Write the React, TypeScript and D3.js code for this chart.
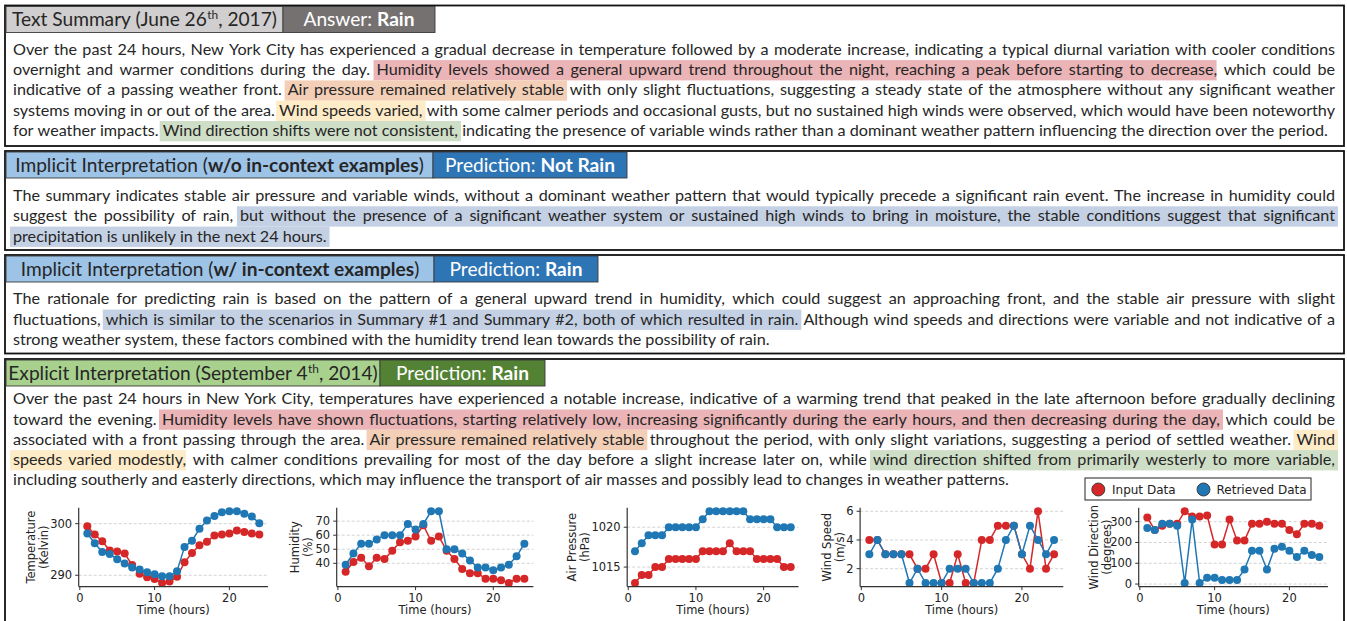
import * as d3 from 'd3';
import React from 'react';

// ---- chart data (hour of day, input vs retrieved series) ----
const hours = [1, 2, 3, 4, 5, 6, 7, 8, 9, 10, 11, 12, 13, 14, 15, 16, 17, 18, 19, 20, 21, 22, 23, 24];

const temperatureInput = [299.5, 297.9, 296.6, 294.8, 294.6, 294.2, 292.0, 290.3, 289.6, 289.3, 288.5, 288.8, 289.7, 292.5, 294.3, 295.8, 296.5, 297.7, 297.9, 298.1, 298.7, 298.4, 298.1, 297.9];
const temperatureRetrieved = [298.1, 296.2, 294.5, 294.1, 293.1, 292.3, 291.5, 291.1, 290.6, 290.2, 289.8, 289.8, 290.8, 295.5, 296.7, 299.0, 300.6, 301.5, 302.2, 302.4, 302.4, 301.9, 301.4, 300.1];
const humidityInput = [34, 41, 44, 38, 44, 43, 49, 55, 56, 59, 67, 56, 59, 49, 43, 36, 33, 33, 29, 29, 28, 26, 29, 29];
const humidityRetrieved = [39, 47, 54, 54, 57, 60, 60, 60, 68, 64, 68, 77, 77, 50, 50, 47, 42, 37, 37, 35, 37, 39, 45, 54];
const pressureInput = [1013, 1014, 1014, 1015, 1015, 1016, 1016, 1016, 1016, 1016, 1017, 1017, 1017, 1017, 1018, 1017, 1017, 1017, 1016, 1016, 1016, 1016, 1015, 1015];
const pressureRetrieved = [1017, 1018, 1019, 1019, 1019, 1020, 1020, 1020, 1020, 1020, 1021, 1022, 1022, 1022, 1022, 1022, 1022, 1021, 1021, 1021, 1021, 1020, 1020, 1020];
const windSpeedInput = [4, 4, 3, 3, 3, 3, 2, 2, 3, 1, 1, 3, 1, 1, 4, 4, 5, 5, 5, 3, 2, 6, 2, 3];
const windSpeedRetrieved = [3, 4, 3, 3, 3, 1, 2, 1, 1, 1, 2, 2, 2, 1, 1, 1, 2, 4, 5, 3, 5, 4, 3, 4];
const windDirInput = [320, 260, 280, 290, 290, 350, 325, 325, 330, 190, 190, 310, 210, 210, 290, 290, 300, 290, 290, 260, 240, 290, 290, 280];
const windDirRetrieved = [270, 260, 290, 290, 280, 5, 310, 5, 30, 30, 20, 20, 20, 70, 160, 160, 70, 170, 180, 160, 130, 160, 140, 130];

const xTicks = [0, 10, 20];
const temperatureTicks = [290, 300];
const humidityTicks = [40, 50, 60, 70];
const pressureTicks = [1015, 1020];
const windSpeedTicks = [2, 4, 6];
const windDirTicks = [0, 100, 200, 300];

const legendLabels = ['Input Data', 'Retrieved Data'];

// ---- text panels ----
type Seg = [string, string?];

const summaryLines: Seg[][] = [
  [['Over the past 24 hours, New York City has experienced a gradual decrease in temperature followed by a moderate increase, indicating a typical diurnal variation with cooler conditions']],
  [['overnight and warmer conditions during the day. '], ['Humidity levels showed a general upward trend throughout the night, reaching a peak before starting to decrease', 'red'], [', which could be']],
  [['indicative of a passing weather front. '], ['Air pressure remained relatively stable', 'orange'], [' with only slight fluctuations, suggesting a steady state of the atmosphere without any significant weather']],
  [['systems moving in or out of the area. '], ['Wind speeds varied,', 'yellow'], [' with some calmer periods and occasional gusts, but no sustained high winds were observed, which would have been noteworthy']],
  [['for weather impacts. '], ['Wind direction shifts were not consistent,', 'green'], [' indicating the presence of variable winds rather than a dominant weather pattern influencing the direction over the period.']],
];

const implicitNoCtxLines: Seg[][] = [
  [['The summary indicates stable air pressure and variable winds, without a dominant weather pattern that would typically precede a significant rain event. The increase in humidity could']],
  [['suggest the possibility of rain, '], ['but without the presence of a significant weather system or sustained high winds to bring in moisture, the stable conditions suggest that significant', 'blue']],
  [['precipitation is unlikely in the next 24 hours.', 'blue']],
];

const implicitCtxLines: Seg[][] = [
  [['The rationale for predicting rain is based on the pattern of a general upward trend in humidity, which could suggest an approaching front, and the stable air pressure with slight']],
  [['fluctuations, '], ['which is similar to the scenarios in Summary #1 and Summary #2, both of which resulted in rain.', 'blue'], [' Although wind speeds and directions were variable and not indicative of a']],
  [['strong weather system, these factors combined with the humidity trend lean towards the possibility of rain.']],
];

const explicitLines: Seg[][] = [
  [['Over the past 24 hours in New York City, temperatures have experienced a notable increase, indicative of a warming trend that peaked in the late afternoon before gradually declining']],
  [['toward the evening. '], ['Humidity levels have shown fluctuations, starting relatively low, increasing significantly during the early hours, and then decreasing during the day,', 'red'], [' which could be']],
  [['associated with a front passing through the area. '], ['Air pressure remained relatively stable', 'orange'], [' throughout the period, with only slight variations, suggesting a period of settled weather. '], ['Wind', 'yellow']],
  [['speeds varied modestly', 'yellow'], [', with calmer conditions prevailing for most of the day before a slight increase later on, while '], ['wind direction shifted from primarily westerly to more variable,', 'green']],
  [['including southerly and easterly directions, which may influence the transport of air masses and possibly lead to changes in weather patterns.']],
];

type Part = { t: string; bold?: boolean; sup?: boolean };
const summaryTitle: Part[] = [{ t: 'Text Summary (June 26' }, { t: 'th', sup: true }, { t: ', 2017)' }];
const summaryAnswer: Part[] = [{ t: 'Answer: ' }, { t: 'Rain', bold: true }];
const noCtxTitle: Part[] = [{ t: 'Implicit Interpretation (' }, { t: 'w/o in-context examples', bold: true }, { t: ')' }];
const noCtxPred: Part[] = [{ t: 'Prediction: ' }, { t: 'Not Rain', bold: true }];
const ctxTitle: Part[] = [{ t: 'Implicit Interpretation (' }, { t: 'w/ in-context examples', bold: true }, { t: ')' }];
const ctxPred: Part[] = [{ t: 'Prediction: ' }, { t: 'Rain', bold: true }];
const explicitTitle: Part[] = [{ t: 'Explicit Interpretation (September 4' }, { t: 'th', sup: true }, { t: ', 2014)' }];
const explicitPred: Part[] = [{ t: 'Prediction: ' }, { t: 'Rain', bold: true }];

const HL: Record<string, string> = {
  red: '#ebb4b6',
  orange: '#f3cfb7',
  yellow: '#feebc7',
  green: '#cfdec6',
  blue: '#c4d0e3',
};

const RED = '#d62728';
const BLUE = '#1f77b4';
const BODY_FONT = 'Lato';
const CHART_FONT = 'DejaVu Sans';
const TEXT_X = 13;
const TEXT_W = 1322;
const LINE_H = 20.3;

let ctx: CanvasRenderingContext2D | null = null;
const textWidth = (s: string, size: number, weight = 400, family = BODY_FONT) => {
  if (!ctx) ctx = document.createElement('canvas').getContext('2d');
  ctx!.font = `${weight} ${size}px "${family}"`;
  return ctx!.measureText(s).width;
};
const partsWidth = (parts: Part[], size: number) =>
  d3.sum(parts, p => textWidth(p.t, p.sup ? size * 0.62 : size, p.bold ? 700 : 400));

function layoutLine(segs: Seg[], size: number, justify: boolean) {
  type Piece = { text: string; hl?: string; x: number; w: number };
  const words: Piece[][] = [];
  let cur: Piece[] | null = null;
  segs.forEach(([text, hl]) => {
    text.split(' ').forEach((p, i) => {
      if (i > 0) cur = null;
      if (!p) return;
      if (!cur) {
        cur = [];
        words.push(cur);
      }
      cur.push({ text: p, hl, x: 0, w: textWidth(p, size) });
    });
  });
  const wordW = words.map(w => d3.sum(w, p => p.w));
  const gap = justify && words.length > 1
    ? (TEXT_W - d3.sum(wordW)) / (words.length - 1)
    : textWidth(' ', size);
  let x = TEXT_X;
  words.forEach(w => {
    w.forEach(p => {
      p.x = x;
      x += p.w;
    });
    x += gap;
  });
  const groups: { hl: string; x0: number; x1: number; open: boolean }[] = [];
  words.flat().forEach(p => {
    const g = groups[groups.length - 1];
    if (p.hl && g && g.open && g.hl === p.hl) g.x1 = p.x + p.w;
    else if (p.hl) groups.push({ hl: p.hl, x0: p.x, x1: p.x + p.w, open: true });
    else if (g) g.open = false;
  });
  return {
    words: words.map(w => ({ x: w[0].x, text: w.map(p => p.text).join('') })),
    groups,
  };
}

const Paragraph = ({ lines, baseline, size }: { lines: Seg[][]; baseline: number; size: number }) => (
  <g>
    {lines.map((segs, li) => {
      const { words, groups } = layoutLine(segs, size, li < lines.length - 1);
      const base = baseline + li * LINE_H;
      return (
        <g key={li}>
          {groups.map((g, gi) => (
            <rect key={gi} x={g.x0 - 3} y={base - 15} width={g.x1 - g.x0 + 6} height={LINE_H} fill={HL[g.hl]} />
          ))}
          {words.map((w, wi) => (
            <text key={wi} x={w.x} y={base} fontFamily={BODY_FONT} fontSize={size} fill="#262626">
              {w.text}
            </text>
          ))}
        </g>
      );
    })}
  </g>
);

const Tab = ({ x0, x1, top, fill, color, parts, size }: any) => {
  const total = partsWidth(parts, size);
  let cx = (x0 + x1) / 2 - total / 2;
  const base = top + 19.5;
  return (
    <g>
      <rect x={x0} y={top} width={x1 - x0} height={26} fill={fill} stroke="#3a3a3a" strokeWidth={0.9} />
      {parts.map((p: Part, i: number) => {
        const s = p.sup ? size * 0.62 : size;
        const w = textWidth(p.t, s, p.bold ? 700 : 400);
        const el = (
          <text key={i} x={cx} y={p.sup ? base - 7 : base} fontFamily={BODY_FONT} fontSize={s}
            fontWeight={p.bold ? 700 : 400} fill={color}>
            {p.t}
          </text>
        );
        cx += w;
        return el;
      })}
    </g>
  );
};

const AX_TOP = 507.7;
const AX_BOTTOM = 586.6;

interface ChartCfg {
  left: number;
  right: number;
  input: number[];
  retrieved: number[];
  ticks: number[];
  label: string[];
  labelX: number;
}

const MiniChart = ({ c }: { c: ChartCfg }) => {
  const [h0, h1] = d3.extent(hours) as [number, number];
  const xPad = (h1 - h0) * 0.05;
  const x = d3.scaleLinear().domain([h0 - xPad, h1 + xPad]).range([c.left, c.right]);
  const [lo, hi] = d3.extent([...c.input, ...c.retrieved]) as [number, number];
  const yPad = (hi - lo) * 0.05;
  const y = d3.scaleLinear().domain([lo - yPad, hi + yPad]).range([AX_BOTTOM, AX_TOP]);
  const line = d3.line<number>().x((_, i) => x(hours[i])).y(d => y(d));
  const midY = (AX_TOP + AX_BOTTOM) / 2;
  return (
    <g fontFamily={CHART_FONT} fontSize={11.5} fill="#222">
      {c.ticks.map(t => (
        <line key={'g' + t} x1={c.left} x2={c.right} y1={y(t)} y2={y(t)} stroke="#c8c8c8" strokeWidth={0.8} strokeDasharray="3,2" />
      ))}
      {[{ vals: c.input, color: RED }, { vals: c.retrieved, color: BLUE }].map((s, si) => (
        <g key={si}>
          <path d={line(s.vals) || ''} fill="none" stroke={s.color} strokeWidth={1.5} />
          {s.vals.map((v, i) => (
            <circle key={i} cx={x(hours[i])} cy={y(v)} r={4} fill={s.color} />
          ))}
        </g>
      ))}
      <line x1={c.left} x2={c.left} y1={AX_TOP} y2={AX_BOTTOM} stroke="#333" strokeWidth={1.2} />
      <line x1={c.left} x2={c.right} y1={AX_BOTTOM} y2={AX_BOTTOM} stroke="#333" strokeWidth={1.2} />
      {c.ticks.map(t => (
        <g key={'y' + t}>
          <line x1={c.left - 3.5} x2={c.left} y1={y(t)} y2={y(t)} stroke="#333" strokeWidth={1} />
          <text x={c.left - 6.5} y={y(t)} textAnchor="end" dominantBaseline="central">{t}</text>
        </g>
      ))}
      {xTicks.map(t => (
        <g key={'x' + t}>
          <line x1={x(t)} x2={x(t)} y1={AX_BOTTOM} y2={AX_BOTTOM + 3.5} stroke="#333" strokeWidth={1} />
          <text x={x(t)} y={601.5} textAnchor="middle">{t}</text>
        </g>
      ))}
      <text x={(c.left + c.right) / 2} y={613.5} textAnchor="middle">Time (hours)</text>
      {c.label.map((l, i) => (
        <text key={l} transform={`translate(${c.labelX - (c.label.length - 1 - i) * 13},${midY}) rotate(-90)`}
          textAnchor="middle" dominantBaseline="central">
          {l}
        </text>
      ))}
    </g>
  );
};

const charts: ChartCfg[] = [
  { left: 78.7, right: 267.9, input: temperatureInput, retrieved: temperatureRetrieved, ticks: temperatureTicks, label: ['Temperature', '(Kelvin)'], labelX: 44 },
  { left: 336.7, right: 533.3, input: humidityInput, retrieved: humidityRetrieved, ticks: humidityTicks, label: ['Humidity', '(%)'], labelX: 308.3 },
  { left: 627.2, right: 798.5, input: pressureInput, retrieved: pressureRetrieved, ticks: pressureTicks, label: ['Air Pressure', '(hPa)'], labelX: 585 },
  { left: 860.1, right: 1063.3, input: windSpeedInput, retrieved: windSpeedRetrieved, ticks: windSpeedTicks, label: ['Wind Speed', '(m/s)'], labelX: 840 },
  { left: 1138.7, right: 1327.9, input: windDirInput, retrieved: windDirRetrieved, ticks: windDirTicks, label: ['Wind Direction', '(degrees)'], labelX: 1106.7 },
];

const panels = [
  {
    top: 5.5, bottom: 146, baseline: 54.8, lines: summaryLines,
    tabs: [
      { x0: 6, x1: 283, fill: '#d0cece', color: '#262626', parts: summaryTitle },
      { x0: 283, x1: 435, fill: '#767171', color: '#ffffff', parts: summaryAnswer },
    ],
  },
  {
    top: 151, bottom: 250, baseline: 201, lines: implicitNoCtxLines,
    tabs: [
      { x0: 6, x1: 433, fill: '#9dc3e6', color: '#262626', parts: noCtxTitle },
      { x0: 433, x1: 627, fill: '#2e75b6', color: '#ffffff', parts: noCtxPred },
    ],
  },
  {
    top: 255, bottom: 353.5, baseline: 304.3, lines: implicitCtxLines,
    tabs: [
      { x0: 6, x1: 434, fill: '#9dc3e6', color: '#262626', parts: ctxTitle },
      { x0: 434, x1: 598, fill: '#2e75b6', color: '#ffffff', parts: ctxPred },
    ],
  },
  {
    top: 359, bottom: 660, baseline: 404.2, lines: explicitLines,
    tabs: [
      { x0: 6, x1: 380, fill: '#a9d18e', color: '#262626', parts: explicitTitle },
      { x0: 380, x1: 545, fill: '#548235', color: '#ffffff', parts: explicitPred },
    ],
  },
];

export default function App() {
  const refLine = 'strong weather system, these factors combined with the humidity trend lean towards the possibility of rain.';
  const bodySize = Math.max(12, Math.min(18, (100 * 757) / textWidth(refLine, 100)));
  const headSize = Math.max(13, Math.min(20, (100 * 409) / partsWidth(noCtxTitle, 100)));

  return (
    <svg width={1347} height={621} style={{ position: 'absolute', left: 0, top: 0, background: '#fff' }}>
      <rect width={1347} height={621} fill="#fff" />
      {panels.map((p, i) => (
        <g key={i}>
          <rect x={5} y={p.top} width={1339} height={p.bottom - p.top} fill="#fff" stroke="#111" strokeWidth={1.8} />
          {p.tabs.map((t, ti) => (
            <Tab key={ti} {...t} top={p.top + 1} size={headSize} />
          ))}
          <Paragraph lines={p.lines} baseline={p.baseline} size={bodySize} />
        </g>
      ))}
      {charts.map((c, i) => (
        <MiniChart key={i} c={c} />
      ))}
      <g fontFamily={CHART_FONT} fontSize={12} fill="#222">
        <rect x={1085} y={478} width={226} height={22} fill="#fff" stroke="#222" strokeWidth={1} />
        {legendLabels.map((l, i) => (
          <g key={l}>
            <circle cx={[1098.3, 1203.5][i]} cy={489.5} r={6.5} fill={[RED, BLUE][i]} stroke="#333" strokeWidth={0.9} />
            <text x={[1112, 1216.5][i]} y={489.5} dominantBaseline="central">{l}</text>
          </g>
        ))}
      </g>
    </svg>
  );
}
